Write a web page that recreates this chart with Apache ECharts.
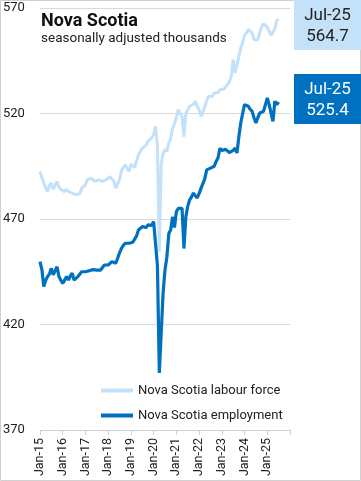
<!DOCTYPE html>
<html><head><meta charset="utf-8">
<script src="https://cdn.jsdelivr.net/npm/echarts@6/dist/echarts.min.js"></script>
<style>html,body{margin:0;padding:0;background:#fff}#c{width:361px;height:481px}</style>
</head><body><div id="c"></div>
<script>
// Monthly categories Jan-15 .. Jan-26 (axis end)
const monthNames = ['Jan','Feb','Mar','Apr','May','Jun','Jul','Aug','Sep','Oct','Nov','Dec'];
const years = [15,16,17,18,19,20,21,22,23,24,25,26];
const categories = [];
years.forEach(y => monthNames.forEach(m => { if (categories.length < 133) categories.push(m + '-' + y); }));

const yTicks = [370, 420, 470, 520, 570];

const labourForce = [
 492.5,489.5,487,485,483,486,487,484,486,487.8,485,484,
 483.8,483,484,483,482.5,482.3,482,481.5,480.7,482,484.6,485.5,
 486.2,488.6,488,489.4,488.5,487.8,487,488.5,489.4,487.8,488.2,488.6,
 489,490.1,489,487.8,484.6,486.5,488.6,493,494.5,495.7,494,492.5,
 496,495.5,494.5,497.5,500.4,502,503.6,504,505,506.8,507.5,508.5,
 510,513.9,505,454.5,496,501,503,502,506,508,513,515,
 518,521.8,520,518.6,509,520,521.8,523.4,522.5,524.5,525.8,523.5,
 521.8,518.6,520.5,523.4,526,528.1,527.4,528,529.7,528.9,530,531.3,
 530.5,531.5,532,533.7,535,537.6,545.5,539.2,543,547.1,551,553.5,
 557,558.2,559.8,559,558.2,555,554.2,555,558.2,561,562.5,562,
 561,559,557,557.5,560,564,564.7
];
const employment = [
 449.8,446,438,441,442.7,444,446.6,443.5,445.5,447.4,442.7,441,
 439.5,441,442.7,441.1,443,444.3,441.1,442,442.7,443.5,445,444.3,
 445,445.8,445.5,445,446,446.6,445.8,445.5,445.8,447,448.2,448,
 448.2,449,449.8,449.5,449,451.4,454,456.1,457.5,458.5,457.7,458.5,
 459.3,459,459.3,462,464.8,465.5,466.4,465.6,466,467.2,466.4,467,
 468.8,469.5,448,397,416,435,446,452,463,465,471,466,
 473.5,475,475,475,456,471,476,479,480.5,482.3,481,480,
 482,484.5,485.4,489,493.3,492.5,494.1,493.3,495,497.3,499,503.5,
 502.5,502,503,502.8,501.5,501.3,502.5,503.6,501.3,509,515.5,520,
 524.2,523.5,523.4,522,521,518,515.5,518,520.2,520.5,521,524,
 527.4,524.2,525,516.3,525.8,524.2,525.4
];

const seriesNames = ['Nova Scotia labour force', 'Nova Scotia employment'];
const lightBlue = '#c3e1f9';
const darkBlue = '#0070c0';
const font = 'Roboto, "Noto Sans", sans-serif';

const lastIdx = labourForce.length - 1;
const lastLabel = categories[lastIdx];

const chart = echarts.init(document.getElementById('c'), null, {renderer: 'canvas'});
chart.setOption({
  animation: false,
  textStyle: {fontFamily: font},
  title: {
    text: 'Nova Scotia',
    subtext: 'seasonally adjusted thousands',
    left: 36, top: 7, itemGap: 2,
    textStyle: {fontSize: 18, fontWeight: 'bold', color: '#111', fontFamily: font},
    subtextStyle: {fontSize: 13.5, color: '#222', fontFamily: font}
  },
  grid: {left: 40, right: 71, top: 8, bottom: 51, containLabel: false},
  legend: {
    orient: 'vertical', left: 96, top: 379,
    itemWidth: 32, itemHeight: 4, itemGap: 12,
    icon: 'rect',
    textStyle: {fontSize: 13, color: '#222', fontFamily: font},
    data: seriesNames
  },
  xAxis: {
    type: 'category', data: categories, boundaryGap: false,
    axisLine: {lineStyle: {color: '#d0d0d0', width: 1}},
    axisTick: {show: true, interval: (i) => i % 12 === 0, length: 5, lineStyle: {color: '#d0d0d0'}},
    axisLabel: {
      interval: (i) => i % 12 === 0 && i < 132, rotate: 90, margin: 8,
      fontSize: 12.5, color: '#222', fontFamily: font
    },
    splitLine: {show: false}
  },
  yAxis: {
    type: 'value', min: yTicks[0], max: yTicks[yTicks.length - 1], interval: 50,
    axisLine: {show: false}, axisTick: {show: false},
    axisLabel: {align: 'left', margin: 37, fontSize: 13, color: '#222', fontFamily: font},
    splitLine: {lineStyle: {color: '#d9d9d9', width: 1}}
  },
  series: [
    {name: seriesNames[0], type: 'line', data: labourForce, showSymbol: false, symbol: 'none',
     lineStyle: {color: lightBlue, width: 3}, itemStyle: {color: lightBlue}, z: 2},
    {name: seriesNames[1], type: 'line', data: employment, showSymbol: false, symbol: 'none',
     lineStyle: {color: darkBlue, width: 3.2}, itemStyle: {color: darkBlue}, z: 3}
  ],
  graphic: [
    {type: 'rect', shape: {x: 0.5, y: 0.5, width: 360, height: 480}, style: {fill: 'none', stroke: '#d0d0d0', lineWidth: 1}, z: -1},
    {type: 'rect', shape: {x: 294, y: 0, width: 67, height: 50}, style: {fill: lightBlue}, z: 10},
    {type: 'text', x: 327.5, y: 16, style: {text: lastLabel, fontSize: 17, fill: '#222', align: 'center', verticalAlign: 'middle', fontFamily: font}, z: 11},
    {type: 'text', x: 327.5, y: 37, style: {text: labourForce[lastIdx].toFixed(1), fontSize: 17, fill: '#222', align: 'center', verticalAlign: 'middle', fontFamily: font}, z: 11},
    {type: 'rect', shape: {x: 294, y: 74, width: 67, height: 50}, style: {fill: darkBlue}, z: 10},
    {type: 'text', x: 327.5, y: 90, style: {text: lastLabel, fontSize: 17, fill: '#fff', align: 'center', verticalAlign: 'middle', fontFamily: font}, z: 11},
    {type: 'text', x: 327.5, y: 111, style: {text: employment[lastIdx].toFixed(1), fontSize: 17, fill: '#fff', align: 'center', verticalAlign: 'middle', fontFamily: font}, z: 11}
  ]
});
</script>
</body></html>
